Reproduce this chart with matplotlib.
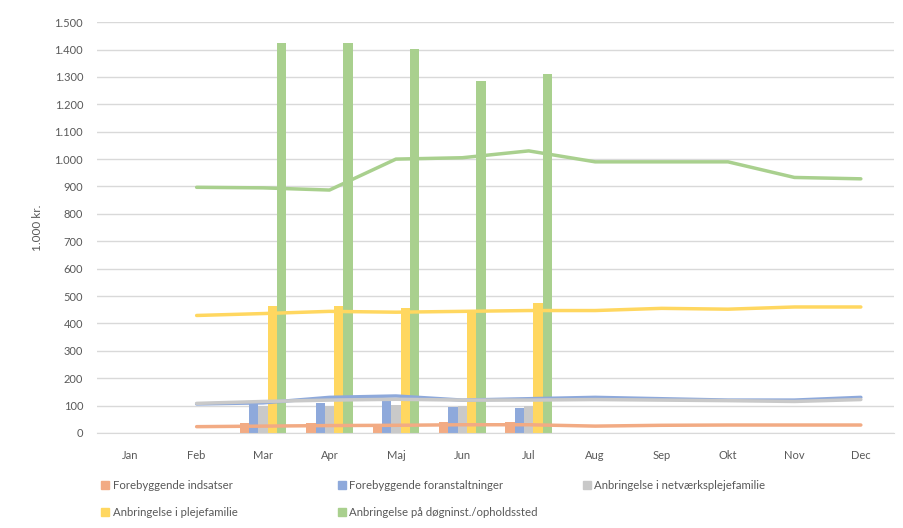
import numpy as np
import matplotlib.pyplot as plt
from matplotlib.patches import Patch
from matplotlib.ticker import FuncFormatter

months = ['Jan', 'Feb', 'Mar', 'Apr', 'Maj', 'Jun', 'Jul', 'Aug', 'Sep', 'Okt', 'Nov', 'Dec']
labels = ['Forebyggende indsatser', 'Forebyggende foranstaltninger',
          'Anbringelse i netværksplejefamilie', 'Anbringelse i plejefamilie',
          'Anbringelse på døgninst./opholdssted']
colors = ['#F2AB84', '#8EA9DB', '#C9C9C9', '#FFD760', '#A9D08E']

nan = np.nan
# columns (Mar-Jul)
bar_forebyg_ind = [nan, nan, 35, 35, 33, 40, 40, nan, nan, nan, nan, nan]
bar_forebyg_for = [nan, nan, 105, 109, 128, 96, 91, nan, nan, nan, nan, nan]
bar_netvaerk = [nan, nan, 100, 100, 103, 100, 100, nan, nan, nan, nan, nan]
bar_pleje = [nan, nan, 465, 465, 456, 445, 475, nan, nan, nan, nan, nan]
bar_doegn = [nan, nan, 1423, 1423, 1401, 1284, 1310, nan, nan, nan, nan, nan]

# lines (Feb-Dec)
line_forebyg_ind = [nan, 23, 25, 27, 28, 30, 30, 25, 28, 29, 29, 29]
line_forebyg_for = [nan, 106, 110, 130, 135, 120, 125, 130, 125, 120, 120, 130]
line_netvaerk = [nan, 108, 115, 120, 123, 120, 120, 122, 120, 118, 115, 122]
line_pleje = [nan, 429, 436, 444, 441, 444, 447, 447, 455, 452, 460, 460]
line_doegn = [nan, 897, 895, 887, 1000, 1005, 1030, 990, 990, 990, 933, 928]

bars = [bar_forebyg_ind, bar_forebyg_for, bar_netvaerk, bar_pleje, bar_doegn]
lines = [line_forebyg_ind, line_forebyg_for, line_netvaerk, line_pleje, line_doegn]

plt.rcParams['font.family'] = ['Lato', 'DejaVu Sans']
txt = '#595959'

fig = plt.figure(figsize=(9.04, 5.28), dpi=100)
ax = fig.add_axes([0.1073, 0.180, 0.8817, 0.778])

x = np.arange(len(months))
w = 0.14
for i, (vals, c) in enumerate(zip(bars, colors)):
    ax.bar(x + (i - 2) * w, vals, width=w, color=c, zorder=2)
for vals, c in zip(lines, colors):
    ax.plot(x, vals, color=c, lw=2.5, zorder=3, solid_capstyle='round')

ax.set_xlim(-0.5, 11.5)
ax.set_ylim(0, 1500)
ax.set_yticks(np.arange(0, 1501, 100))
ax.yaxis.set_major_formatter(FuncFormatter(lambda v, p: f'{v:,.0f}'.replace(',', '.')))
ax.set_xticks(x)
ax.set_xticklabels(months)
ax.grid(axis='y', color='#D9D9D9', lw=1, zorder=0)
ax.set_axisbelow(True)
for s in ['top', 'right', 'left']:
    ax.spines[s].set_visible(False)
ax.spines['bottom'].set_color('#D9D9D9')
ax.tick_params(axis='both', length=0, labelsize=8, colors=txt)
ax.tick_params(axis='x', pad=12)
ax.tick_params(axis='y', pad=10)
ax.set_ylabel('1.000 kr.', fontsize=8.5, color=txt, labelpad=8)

# legend entries
pos = [(0.112, 0.081), (0.374, 0.081), (0.645, 0.081), (0.112, 0.030), (0.374, 0.030)]
for lab, c, (px, py) in zip(labels, colors, pos):
    lg = fig.legend(handles=[Patch(color=c, label=lab)], loc='center left',
                    bbox_to_anchor=(px, py), frameon=False, fontsize=8.2,
                    handlelength=0.7, handleheight=0.7, handletextpad=0.3,
                    borderpad=0, borderaxespad=0, labelcolor=txt)

fig.savefig('out.png', dpi=100)
